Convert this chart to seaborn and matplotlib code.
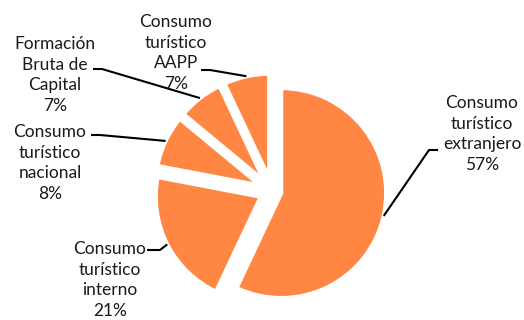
import numpy as np
import matplotlib
matplotlib.use("Agg")
import matplotlib.pyplot as plt
import seaborn as sns

# ---- data ----
categories = ["Consumo\nturístico\nextranjero", "Consumo\nturístico\ninterno",
              "Consumo\nturístico\nnacional", "Formación\nBruta de\nCapital",
              "Consumo\nturístico\nAAPP"]
values = [57, 21, 8, 7, 7]
pct_labels = ["57%", "21%", "8%", "7%", "7%"]

# ---- layout (pixel positions of label blocks / leader elbows) ----
label_px = [(482, 134), (110, 280), (50, 163), (55, 75), (176, 53)]
elbow_px = [(429, 150), (160, 250), (100, 135), (102, 69), (210, 70)]
end_px = [(438, 150), (147, 250), (91, 135), (93, 69), (201, 70)]
explode = [0.09, 0.12, 0.12, 0.12, 0.12]

W, H = 524, 320
CX, CY, R = 272, 191, 105

def px2d(p):
    return ((p[0] - CX) / R, (CY - p[1]) / R)

sns.set_theme(style="white")
plt.rcParams["font.family"] = ["Lato", "DejaVu Sans"]

fig = plt.figure(figsize=(W / 100, H / 100), dpi=100)
ax = fig.add_axes([0, 0, 1, 1])

color = "#FF8743"
wedges, _ = ax.pie(values, startangle=90, counterclock=False,
                   colors=[color] * len(values), explode=explode,
                   radius=1.0, wedgeprops=dict(edgecolor="white", linewidth=3))

ax.set_xlim(-CX / R, (W - CX) / R)
ax.set_ylim(-(H - CY) / R, CY / R)
ax.set_aspect("auto")
ax.axis("off")

for w, cat, pct, lp, el, en in zip(wedges, categories, pct_labels, label_px, elbow_px, end_px):
    mid = np.deg2rad((w.theta1 + w.theta2) / 2)
    cx, cy = w.center
    tip = (cx + w.r * np.cos(mid), cy + w.r * np.sin(mid))
    e = px2d(el)
    n = px2d(en)
    ax.plot([n[0], e[0], tip[0]], [n[1], e[1], tip[1]], color="black", lw=1.5,
            solid_capstyle="butt", zorder=1)
    x, y = px2d(lp)
    ax.text(x, y, cat + "\n" + pct, ha="center", va="center", multialignment="center",
            fontsize=12.5, linespacing=1.36, color="#1a1a1a")

fig.savefig("out.png", dpi=100, facecolor="white")
